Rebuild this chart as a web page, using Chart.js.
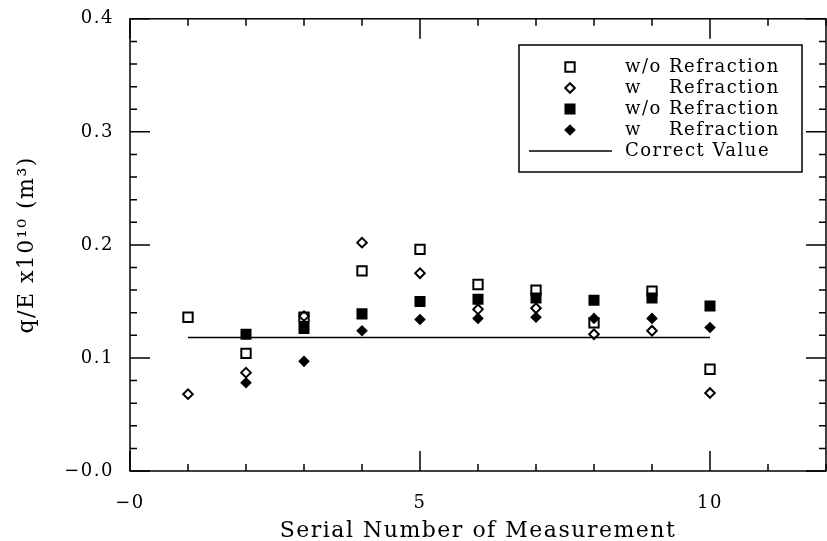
<!DOCTYPE html>
<html>
<head>
<meta charset="utf-8">
<script src="https://cdn.jsdelivr.net/npm/chart.js@4"></script>
<style>
  html, body { margin: 0; padding: 0; background: #fff; overflow: hidden; }
  #wrap { width: 827px; height: 541px; overflow: hidden; }
</style>
</head>
<body>
<div id="wrap"><canvas id="refrChart" width="840" height="544"></canvas></div>
<script>
// values
const serialNo = [1, 2, 3, 4, 5, 6, 7, 8, 9, 10];
const woRefrOpen = [0.136, 0.104, 0.136, 0.177, 0.196, 0.165, 0.160, 0.131, 0.159, 0.090];
const wRefrOpen = [0.068, 0.087, 0.137, 0.202, 0.175, 0.143, 0.144, 0.121, 0.124, 0.069];
const woRefrFilled = [null, 0.121, 0.126, 0.139, 0.150, 0.152, 0.153, 0.151, 0.153, 0.146];
const wRefrFilled = [null, 0.078, 0.097, 0.124, 0.134, 0.135, 0.136, 0.135, 0.135, 0.127];
const correctValue = 0.118;
const correctFrom = 1, correctTo = 10;

const xMin = 0, xMax = 12;
const yMin = 0, yMax = 0.4;
const xTickLabels = { 0: '\u22120', 5: '5', 10: '10' };
const yTickLabels = ['\u22120.0', '0.1', '0.2', '0.3', '0.4'];

const serif = '"DejaVu Serif", serif';
Chart.defaults.font.family = serif;
Chart.defaults.color = '#000';

function pts(vals) {
    return serialNo.map((x, i) => ({ x: x, y: vals[i] })).filter(p => p.y !== null);
}

// box round the plot with inward ticks on all four sides
const framePlugin = {
    id: 'frame',
    beforeDraw(chart) {
        chart.ctx.letterSpacing = '1.5px';
    },
    beforeDatasetsDraw(chart) {
        const { ctx, chartArea: a, scales } = chart;
        const x = scales.x, y = scales.y;
        ctx.save();
        ctx.strokeStyle = '#000';
        ctx.lineWidth = 1.5;
        ctx.strokeRect(a.left, a.top, a.right - a.left, a.bottom - a.top);
        ctx.beginPath();
        for (let v = xMin; v <= xMax; v++) {
            const px = x.getPixelForValue(v);
            const len = v % 5 === 0 ? 20 : 7;
            ctx.moveTo(px, a.bottom); ctx.lineTo(px, a.bottom - len);
            ctx.moveTo(px, a.top); ctx.lineTo(px, a.top + len);
        }
        for (let i = 0; i <= 20; i++) {
            const py = y.getPixelForValue(yMin + i * 0.02);
            const len = i % 5 === 0 ? 20 : 7;
            ctx.moveTo(a.left, py); ctx.lineTo(a.left + len, py);
            ctx.moveTo(a.right, py); ctx.lineTo(a.right - len, py);
        }
        ctx.stroke();
        ctx.restore();
    }
};

// legend in a box, top right
const boxLegend = {
    id: 'boxLegend',
    afterDraw(chart) {
        const ctx = chart.ctx;
        const box = { left: 519, top: 45, right: 802, bottom: 172 };
        const symX = 570, textX = 625, rowY = 67, rowH = 21;
        ctx.save();
        ctx.letterSpacing = '1.5px';
        ctx.lineWidth = 1.5;
        ctx.strokeStyle = '#000';
        ctx.fillStyle = '#fff';
        ctx.fillRect(box.left, box.top, box.right - box.left, box.bottom - box.top);
        ctx.strokeRect(box.left, box.top, box.right - box.left, box.bottom - box.top);
        ctx.font = '18px ' + serif;
        ctx.textBaseline = 'middle';
        const shift = ctx.measureText('w/o ').width;
        chart.data.datasets.forEach((ds, i) => {
            const yy = rowY + i * rowH;
            ctx.fillStyle = '#000';
            if (ds.type === 'line') {
                ctx.beginPath();
                ctx.lineWidth = ds.borderWidth;
                ctx.moveTo(529, yy); ctx.lineTo(612, yy);
                ctx.stroke();
                ctx.fillText(ds.label, textX, yy);
            } else {
                ctx.fillStyle = ds.backgroundColor;
                ctx.lineWidth = ds.borderWidth;
                Chart.helpers.drawPoint(ctx, { pointStyle: ds.pointStyle, radius: ds.pointRadius, rotation: 0, borderWidth: ds.borderWidth }, symX, yy);
                ctx.fillStyle = '#000';
                const parts = ds.label.split(/\s+/);
                ctx.fillText(parts[0], textX, yy);
                ctx.fillText(parts.slice(1).join(' '), textX + shift, yy);
            }
        });
        ctx.restore();
    }
};

const refrChart = new Chart('refrChart', {
    type: 'scatter',
    data: {
        datasets: [{
            label: 'w/o Refraction',
            data: pts(woRefrOpen),
            pointStyle: 'rect',
            pointRadius: 6.6,
            borderWidth: 2,
            borderColor: '#000',
            backgroundColor: 'rgba(0,0,0,0)'
        }, {
            label: 'w   Refraction',
            data: pts(wRefrOpen),
            pointStyle: 'rectRot',
            pointRadius: 4.8,
            borderWidth: 2,
            borderColor: '#000',
            backgroundColor: 'rgba(0,0,0,0)'
        }, {
            label: 'w/o Refraction',
            data: pts(woRefrFilled),
            pointStyle: 'rect',
            pointRadius: 7.8,
            borderWidth: 0,
            borderColor: '#000',
            backgroundColor: '#000'
        }, {
            label: 'w   Refraction',
            data: pts(wRefrFilled),
            pointStyle: 'rectRot',
            pointRadius: 5.8,
            borderWidth: 0,
            borderColor: '#000',
            backgroundColor: '#000'
        }, {
            type: 'line',
            label: 'Correct Value',
            data: [{ x: correctFrom, y: correctValue }, { x: correctTo, y: correctValue }],
            borderColor: '#000',
            borderWidth: 1.5,
            pointRadius: 0,
            fill: false
        }]
    },
    options: {
        responsive: false,
        animation: false,
        devicePixelRatio: 1,
        layout: { padding: { top: 15, right: 7, left: 0, bottom: 0 } },
        plugins: { legend: { display: false }, tooltip: { enabled: false } },
        scales: {
            x: {
                type: 'linear',
                min: xMin,
                max: xMax,
                afterFit(scale) { scale.height = 73; },
                grid: { display: false },
                border: { display: false },
                ticks: {
                    stepSize: 1,
                    autoSkip: false,
                    maxRotation: 0,
                    padding: 14,
                    font: { size: 18 },
                    callback: v => xTickLabels[v] || ''
                },
                title: {
                    display: true,
                    text: 'Serial Number of Measurement',
                    font: { size: 22 },
                    padding: { top: 0, bottom: 0 }
                }
            },
            y: {
                min: yMin,
                max: yMax,
                afterFit(scale) { scale.width = 130; },
                grid: { display: false },
                border: { display: false },
                ticks: {
                    stepSize: 0.1,
                    padding: 8,
                    font: { size: 18 },
                    callback: (v, i) => yTickLabels[i]
                },
                title: {
                    display: true,
                    text: 'q/E x10\u00b9\u2070 (m\u00b3)',
                    font: { size: 22 },
                    padding: { top: 14, bottom: 0 }
                }
            }
        }
    },
    plugins: [framePlugin, boxLegend]
});
</script>
</body>
</html>
